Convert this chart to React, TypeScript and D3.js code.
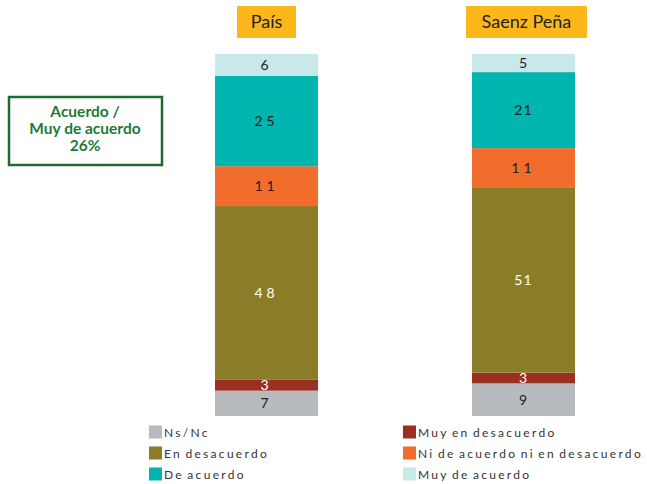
import React from "react";
import * as d3 from "d3";

const categories = ["País", "Saenz Peña"];
const seriesNames = [
  "Ns/Nc",
  "Muy en desacuerdo",
  "En desacuerdo",
  "Ni de acuerdo ni en desacuerdo",
  "De acuerdo",
  "Muy de acuerdo",
];
const paisValues = [7, 3, 48, 11, 25, 6];
const saenzValues = [9, 3, 51, 11, 21, 5];
const colors = ["#B7BBBD", "#9B3022", "#8B7D27", "#F26C2B", "#00B5B0", "#C8E8EA"];
const labelColors = ["#222", "#fff", "#fff", "#222", "#222", "#222"];
const boxLines = ["Acuerdo /", "Muy de acuerdo", "26%"];

const W = 647;
const H = 484;

export default function App() {
  const data = [paisValues, saenzValues];
  const x = d3.scaleBand<string>().domain(categories).range([215, 575]).paddingInner(0.599).paddingOuter(0);
  const y = d3.scaleLinear().domain([0, 100]).range([416, 54]);
  const stackData = categories.map((c, i) => {
    const o: any = { cat: c };
    seriesNames.forEach((s, j) => (o[s] = data[i][j]));
    return o;
  });
  const stack = d3.stack<any>().keys(seriesNames)(stackData);
  const font = "'Century Gothic', 'Lato', 'DejaVu Sans', sans-serif";
  const titleW = [59, 121];
  const legendOrder = [0, 1, 2, 3, 4, 5];
  return (
    <svg width={W} height={H} style={{ position: "absolute", left: 0, top: 0, background: "#fff" }}>
      {categories.map((c, i) => {
        const cx = x(c)! + x.bandwidth() / 2 + (i === 1 ? 3 : 0);
        return (
          <g key={c}>
            <rect x={cx - titleW[i] / 2} y={6} width={titleW[i]} height={32} fill="#FDB71A" />
            <text x={cx} y={28} textAnchor="middle" fontFamily={font} fontSize={18} fill="#222">
              {c}
            </text>
          </g>
        );
      })}
      {stack.map((layer, j) => (
        <g key={seriesNames[j]}>
          {layer.map((d, i) => {
            const x0 = x(categories[i])!;
            const y0 = y(d[1]);
            const h = y(d[0]) - y(d[1]);
            return (
              <g key={i}>
                <rect x={x0} y={y0} width={x.bandwidth()} height={h} fill={colors[j]} />
                <text
                  x={x0 + x.bandwidth() / 2}
                  y={y0 + h / 2 + 5}
                  textAnchor="middle"
                  fontFamily={font}
                  fontSize={14}
                  letterSpacing={i === 0 || data[i][j] === 11 ? 4 : 1}
                  fill={labelColors[j]}
                >
                  {data[i][j]}
                </text>
              </g>
            );
          })}
        </g>
      ))}
      <rect x={9} y={97} width={153} height={68} fill="#fff" stroke="#1E6B30" strokeWidth={2.5} />
      {boxLines.map((t, i) => (
        <text
          key={t}
          x={85}
          y={117 + i * 17}
          textAnchor="middle"
          fontFamily={font}
          fontWeight="bold"
          fontSize={15.5}
          fill="#1E7A34"
        >
          {t}
        </text>
      ))}
      {legendOrder.map((j, k) => {
        const col = k % 2;
        const row = Math.floor(k / 2);
        const lx = col === 0 ? 149 : 403;
        const ly = 432 + row * 21;
        return (
          <g key={seriesNames[j]}>
            <rect x={lx} y={ly - 6.5} width={13} height={13} fill={colors[j]} />
            <text x={lx + 15} y={ly + 4.5} fontFamily={font} fontSize={12} letterSpacing={2.3} wordSpacing={-2} fill="#333">
              {seriesNames[j]}
            </text>
          </g>
        );
      })}
    </svg>
  );
}
